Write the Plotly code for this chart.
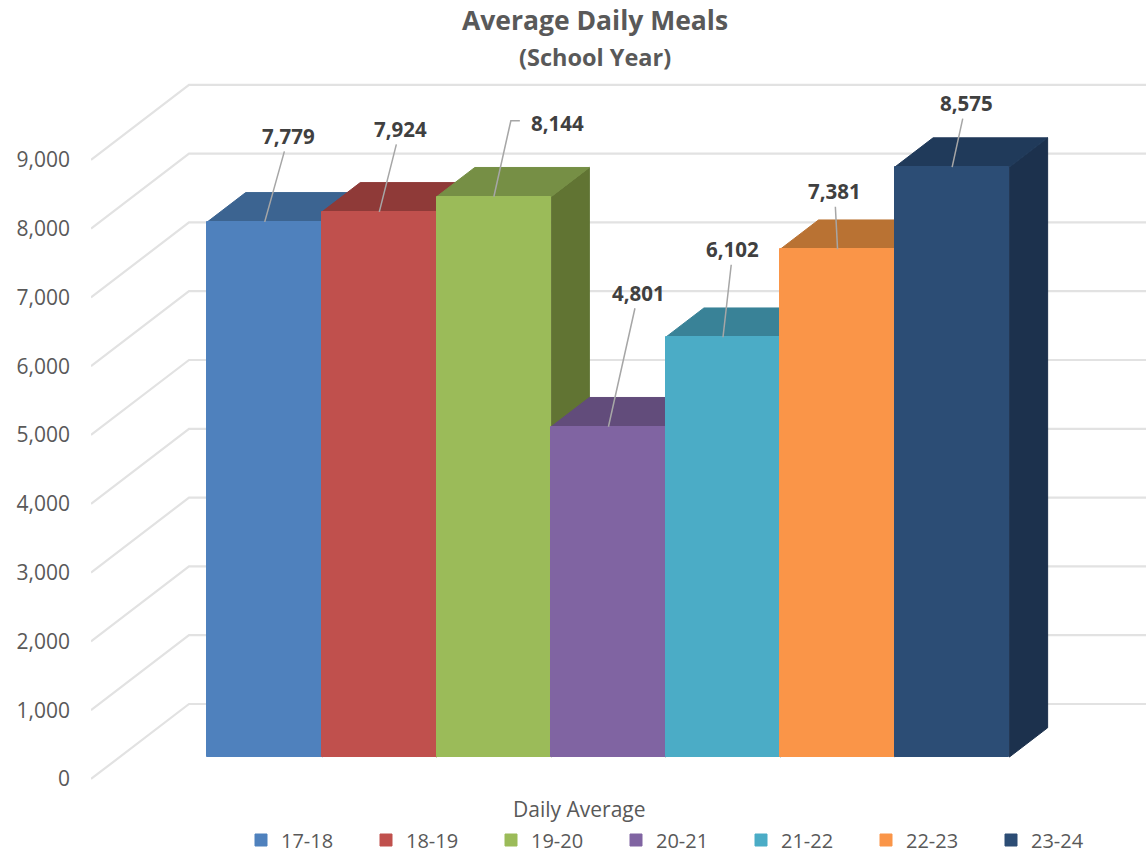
import plotly.graph_objects as go

# ---- data -------------------------------------------------------------
years = ["17-18", "18-19", "19-20", "20-21", "21-22", "22-23", "23-24"]
daily_average = [7779, 7924, 8144, 4801, 6102, 7381, 8575]
front_colors = ["#4F81BD", "#C0504D", "#9BBB59", "#8064A2", "#4BACC6", "#FA9548", "#2C4D75"]
top_colors = ["#3C6491", "#8F3A38", "#768F45", "#624C7B", "#398297", "#B97233", "#203A5A"]
side_colors = ["#334F73", "#72302E", "#617433", "#4E3D62", "#2F6A7B", "#96602A", "#1C314D"]
y_ticks = [0, 1000, 2000, 3000, 4000, 5000, 6000, 7000, 8000, 9000]
# label offsets from the bar's top-centre point, in screen pixels
label_dx = [24, 21, 64, 30, 10, -3, 14]
label_dy = [-86, -83, -74, -134, -88, -58, -64]

# ---- page geometry ---------------------------------------------------------
W, H = 1146, 853
PX_X = 114.57            # px per bar slot
PX_Y = 0.0688            # px per meal
X0 = 236                 # px of slot 0 centre on the wall's front plane
Y0 = 779                 # px of value 0 on the front plane
PLOT_L, PLOT_B = 91, 790
DX, DY = 98 / PX_X, 75 / PX_Y   # full floor depth
FRONT, BACK = 0.293, 0.683      # bar front / back depth (fraction of floor)
x_range = [(PLOT_L - X0) / PX_X, (W - X0) / PX_X]
y_range = [(Y0 - PLOT_B) / PX_Y, Y0 / PX_Y]


def proj(u, v, d):
    return u + d * DX, v + d * DY


def paper_x(px):
    return (px - PLOT_L) / (W - PLOT_L)


def paper_y(px):
    return (PLOT_B - px) / PLOT_B


fig = go.Figure()

# walls: diagonal + back gridline for every tick
gx, gy = [], []
for t in y_ticks:
    a = proj(x_range[0], t, 0)
    b = proj(x_range[0], t, 1)
    gx += [a[0], b[0], x_range[1], None]
    gy += [a[1], b[1], b[1], None]
fig.add_trace(go.Scatter(x=gx, y=gy, mode="lines", line=dict(color="#E2E2E2", width=2.2),
                         hoverinfo="skip", showlegend=False))


def add_face(pts, col):
    fig.add_trace(go.Scatter(x=[p[0] for p in pts], y=[p[1] for p in pts], mode="lines",
                             fill="toself", fillcolor=col, line=dict(width=1, color=col),
                             hoverinfo="skip", showlegend=False))


# sides first; a neighbour's top face meets a side along its edge and covers it
for i, v in enumerate(daily_average):
    r = i + 0.5
    add_face([proj(r, 0, FRONT), proj(r, v, FRONT), proj(r, v, BACK), proj(r, 0, BACK), proj(r, 0, FRONT)],
             side_colors[i])

# tops, shortest bar first so taller neighbours paint over it
for i in sorted(range(len(years)), key=lambda k: daily_average[k]):
    v = daily_average[i]
    l, r = i - 0.5, i + 0.5
    add_face([proj(l, v, FRONT), proj(r, v, FRONT), proj(r, v, BACK), proj(l, v, BACK), proj(l, v, FRONT)],
             top_colors[i])

# front faces, on an overlaid axis pair so they sit above the faces
for i, name in enumerate(years):
    fx, base = proj(i, 0, FRONT)
    fig.add_trace(go.Bar(x=[fx], y=[daily_average[i]], base=[base], width=1, name=name,
                         marker=dict(color=front_colors[i], line=dict(width=1, color=front_colors[i])),
                         xaxis="x2", yaxis="y2"))

# data labels with leader lines
annotations = []
shapes = []
for i, v in enumerate(daily_average):
    ax, ay = proj(i, v, FRONT)
    straight = i != 2
    annotations.append(dict(
        x=ax, y=ay, xref="x", yref="y", text=f"{v:,}", showarrow=straight,
        ax=label_dx[i] if straight else None, ay=label_dy[i] if straight else None,
        xshift=0 if straight else label_dx[i], yshift=0 if straight else -label_dy[i],
        arrowhead=0, arrowwidth=1.5, arrowcolor="#A6A6A6",
        font=dict(family="Open Sans", size=20.5, color="#404040", weight=700)))
    if not straight:
        shapes.append(dict(type="path", xsizemode="pixel", ysizemode="pixel", xanchor=ax, yanchor=ay,
                           path="M 0 0 L 17 76 L 26 76", line=dict(color="#A6A6A6", width=1.5)))

annotations.append(dict(x=paper_x(579), y=paper_y(809), xref="paper", yref="paper",
                        text="Daily Average", showarrow=False, xanchor="center", yanchor="middle",
                        font=dict(family="Open Sans", size=21, color="#595959")))
annotations.append(dict(x=paper_x(595), y=paper_y(57), xref="paper", yref="paper",
                        text="(School Year)", showarrow=False, xanchor="center", yanchor="middle",
                        font=dict(family="Open Sans", size=23.5, color="#595959", weight=700)))

fig.update_layout(
    width=W, height=H, autosize=False,
    margin=dict(l=PLOT_L, r=0, t=0, b=H - PLOT_B),
    paper_bgcolor="white", plot_bgcolor="white",
    font=dict(family="Open Sans", color="#595959"),
    barmode="overlay", bargap=0,
    title=dict(text="Average Daily Meals", x=595 / W, xanchor="center", xref="container",
               y=1 - 21 / H, yanchor="middle", yref="container",
               font=dict(family="Open Sans", size=26.5, color="#595959", weight=700)),
    xaxis=dict(range=x_range, visible=False, fixedrange=True),
    yaxis=dict(range=y_range, tickvals=y_ticks, tickformat=",", showgrid=False, zeroline=False,
               showline=False, ticks="", ticklabelstandoff=20,
               tickfont=dict(family="Open Sans", size=21, color="#595959"), fixedrange=True),
    xaxis2=dict(range=x_range, overlaying="x", visible=False, matches="x"),
    yaxis2=dict(range=y_range, overlaying="y", visible=False, matches="y"),
    legend=dict(orientation="h", x=241 / W, xref="container", xanchor="left",
                y=1 - 840 / H, yref="container", yanchor="middle",
                entrywidth=80, entrywidthmode="pixels", traceorder="normal",
                font=dict(family="Open Sans", size=20, color="#595959"),
                bgcolor="rgba(0,0,0,0)"),
    annotations=annotations, shapes=shapes,
)

# the figure fills the whole window, so drop the page's default body margin
fig.write_html("out.html", config=dict(displayModeBar=False),
               post_script="document.body.style.margin='0';document.body.style.overflow='hidden';")
